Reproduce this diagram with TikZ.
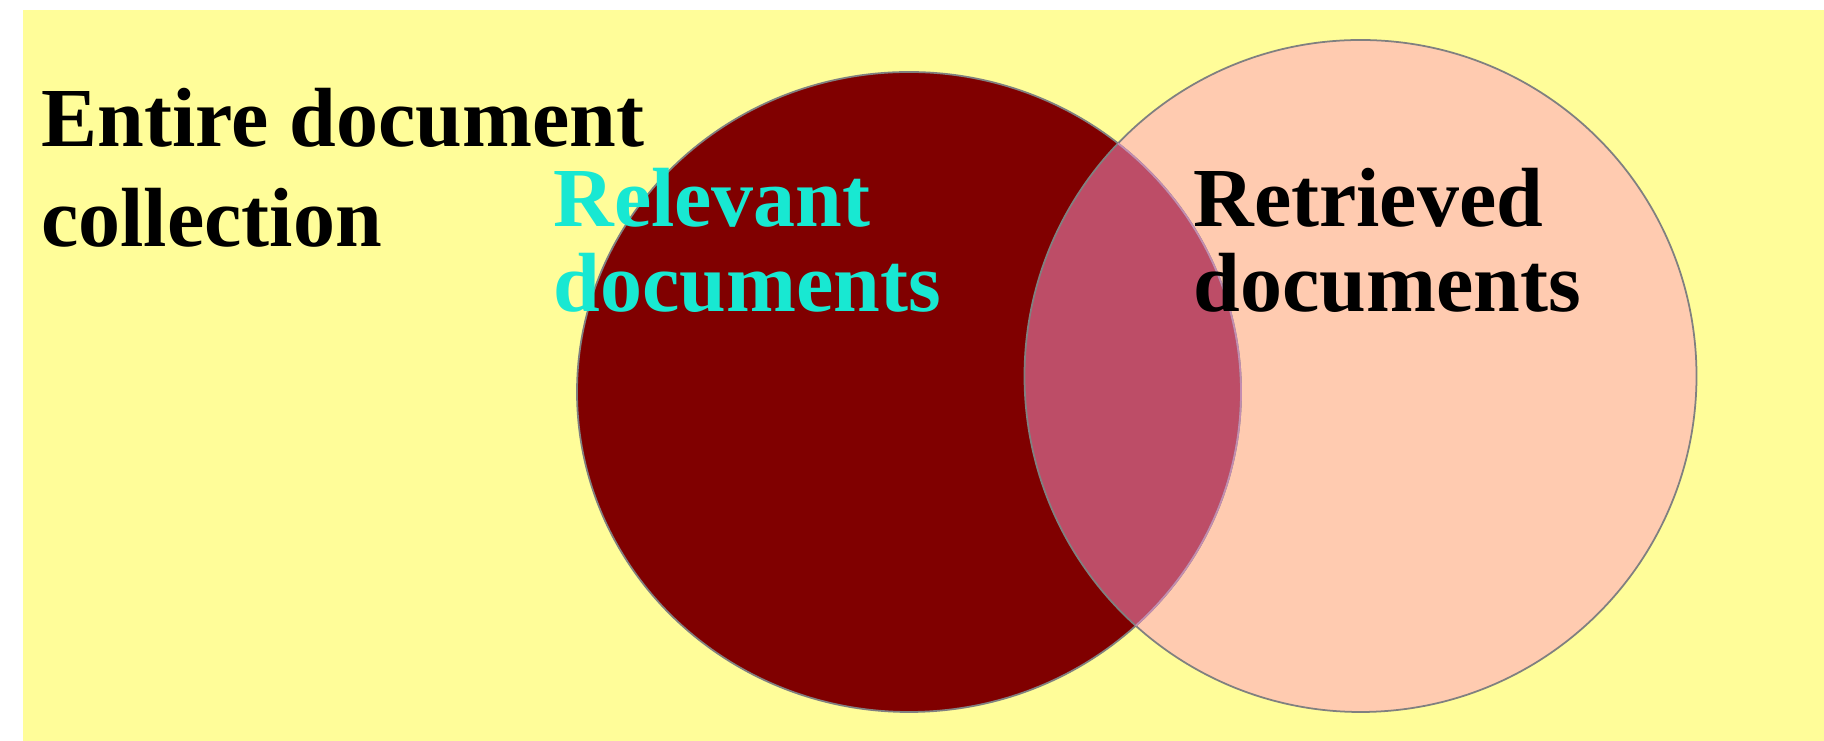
\documentclass[tikz,border=0pt]{standalone}
\usepackage{fontspec}
\setmainfont{Liberation Serif}
\definecolor{bgyellow}{RGB}{255,253,153}
\definecolor{retrpink}{RGB}{255,203,176}
\definecolor{reldark}{RGB}{128,0,0}
\definecolor{overlapred}{RGB}{189,77,103}
\definecolor{edgegray}{RGB}{128,128,128}
\definecolor{inneredge}{RGB}{196,140,176}
\definecolor{relcyan}{RGB}{24,232,210}
\begin{document}
\begin{tikzpicture}[
  venntext/.style={font=\bfseries\fontsize{47.8}{48.4}\selectfont, align=left, inner sep=0pt, anchor=base west},
  edge/.style={draw=edgegray, line width=1pt}]
\useasboundingbox (0,0) rectangle (36.48,14.82);
\fill[bgyellow] (0.46,0) rectangle (36.48,14.62);
\fill[retrpink] (27.21,7.30) circle (6.72);
\fill[reldark] (18.18,6.98) ellipse (6.64 and 6.40);
\begin{scope}
\clip (27.21,7.30) circle (6.72);
\fill[overlapred] (18.18,6.98) ellipse (6.64 and 6.40);
\end{scope}
\draw[edge] (27.21,7.30) circle (6.72);
\draw[edge] (18.18,6.98) ellipse (6.64 and 6.40);
\begin{scope}
\clip (27.21,7.30) circle (6.72);
\draw[edge, draw=inneredge] (18.18,6.98) ellipse (6.64 and 6.40);
\end{scope}
\node[venntext, font=\bfseries\fontsize{47.8}{56.9}\selectfont] (collection) at (0.82,9.88) {Entire document\\collection};
\node[venntext, text=relcyan] (relevant) at (11.06,8.58) {Relevant\\documents};
\node[venntext] (retrieved) at (23.86,8.58) {Retrieved\\documents};
\end{tikzpicture}
\end{document}
